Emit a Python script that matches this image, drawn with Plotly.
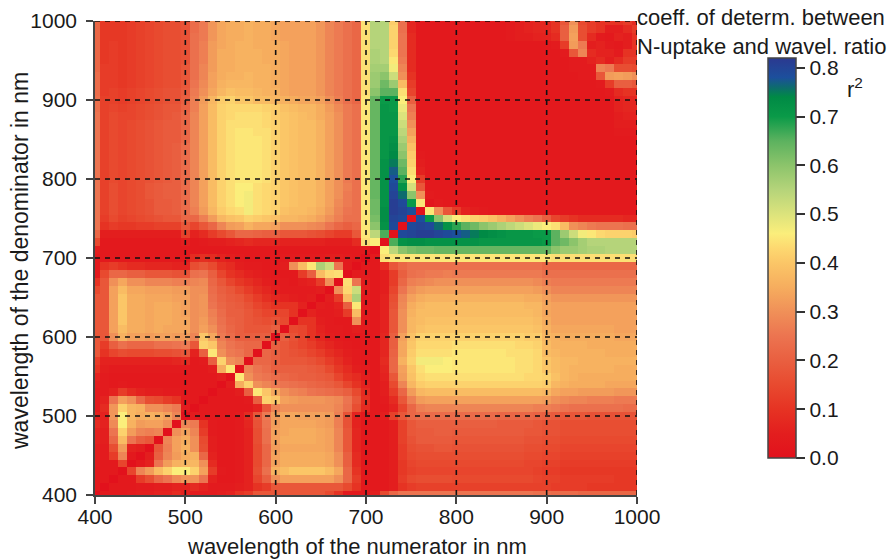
import numpy as np
import plotly.graph_objects as go

# wavelength bands (cell centres)
wavelengths = list(range(400, 1001, 10))
tick_vals = [400, 500, 600, 700, 800, 900, 1000]
grid_vals = [500, 600, 700, 800, 900, 1000]
cbar_ticks = [0.0, 0.1, 0.2, 0.3, 0.4, 0.5, 0.6, 0.7, 0.8]

# r2 x 100. Each row: denominator band, numerator from
# the diagonal upward (the map is symmetric about the diagonal).
r2_rows = [
 [0,3,3,3,4,5,5,6,6, 8,6,4,4,4,5,6,10,12,18, 18,18,18,18,18,18,18,15,10,3, 3,3,5,15,22,25,25,25,25,25, 25,25,25,25,25,25,25,25,25,25, 24,24,23,23,23,22,22,22,22,22,22,22],
 [0,3,3,3,4,4,5,5,6,6, 8,6,4,4,4,5,6,10,12,18, 18,18,18,18,18,18,18,15,10,3, 3,3,5,10,12,13,13,13,13,13, 13,13,13,13,13,13,13,13,13,13, 12,12,12,12,11,11,11,11,11,11],
 [0,3,3,12,16,22,25,29,31, 31,25,6,3,3,4,6,14,20,30, 33,33,33,33,33,33,30,22,12,3, 3,3,5,12,15,16,16,16,16,15, 15,15,15,15,15,15,15,15,14,13, 13,12,12,12,12,12,12,11,11,11],
 [0,14,28,32,38,42,46,46, 42,33,12,4,3,4,6,16,24,36, 38,40,40,40,40,38,34,22,10,3, 3,3,5,11,13,14,14,14,14,14, 14,14,14,14,14,14,14,14,13,12, 12,11,11,11,11,11,11,11,11,11],
 [0,3,6,25,32,36,37, 37,30,8,3,3,4,6,15,22,33, 35,35,35,35,35,34,30,20,8,3, 3,3,5,11,14,15,15,15,15,15, 15,15,15,15,15,15,15,14,14,13, 13,12,12,12,12,12,12,12,12,12],
 [0,5,20,28,32,35, 36,22,6,3,3,4,6,15,22,33, 35,35,35,35,35,34,30,20,8,3, 3,3,5,12,15,16,16,16,16,16, 16,16,16,16,16,16,16,15,15,14, 14,13,13,13,13,13,13,13,13,13],
 [0,18,27,33,36, 30,16,5,3,3,4,6,15,22,32, 34,34,34,34,34,33,28,18,7,3, 3,3,5,12,16,17,17,18,18,17, 17,17,17,17,17,17,17,16,16,15, 15,14,14,14,14,14,14,14,14,14],
 [0,28,33,35, 30,15,5,3,3,4,6,16,24,33, 35,35,35,35,34,33,28,18,7,3, 3,3,5,13,17,19,19,19,19,18, 18,18,18,18,18,18,18,17,17,16, 16,15,15,15,15,15,15,15,15,15],
 [0,30,33, 28,12,4,3,3,4,6,16,24,33, 34,35,35,35,34,33,28,18,7,3, 3,3,5,13,18,19,19,20,20,19, 19,19,19,19,19,19,19,18,18,17, 17,16,16,16,16,16,16,16,16,16],
 [0,28, 26,10,4,3,3,4,7,17,25,32, 34,34,34,34,33,32,27,17,6,3, 3,3,5,13,18,20,20,20,20,20, 20,20,20,20,19,19,19,19,18,17, 17,16,16,16,16,16,16,16,16,16],
 [0, 4,3,3,3,3,4,8,18,26, 32,34,34,33,33,33,32,27,17,6, 3,3,5,13,18,22,23,23,23,23, 23,23,23,23,23,22,22,22,22,21, 20,19,18,18,18,17,17,17,17,17,17],
 [0,3,3,3,3,3,3,6,18,28, 30,30,30,30,30,30,28,24,16,8, 3,3,6,14,22,27,28,28,28,28, 28,28,28,28,28,28,28,28,27,27, 26,25,24,24,24,24,24,24,23,23],
 [0,3,3,3,3,4,20,42,40, 33,32,31,31,31,30,29,25,18,9, 3,4,8,18,27,32,33,33,33,33, 33,33,33,33,33,33,33,33,33,32, 30,29,28,28,27,27,27,26,26,26],
 [0,3,3,5,20,45,40,34, 30,28,27,25,24,23,22,20,15,8, 3,5,12,22,32,37,38,38,38,38, 38,38,38,38,38,38,38,38,38,37, 34,33,33,32,32,32,32,31,31,31],
 [0,5,35,42,30,28,26, 25,24,23,22,21,20,18,14,10,6, 3,5,15,28,37,41,42,42,42,42, 42,42,42,42,42,42,42,42,42,41, 37,36,35,35,35,35,34,34,34,34],
 [0,45,30,26,25,23, 22,21,20,20,19,18,14,10,8,5, 3,6,18,32,39,43,44,44,44,44, 44,44,44,44,44,44,44,43,43,42, 39,37,36,35,35,35,35,35,35,35],
 [0,28,25,23,20, 20,20,20,19,18,15,11,8,5,4, 3,7,22,33,40,44,46,46,46,45, 45,45,45,45,45,45,44,44,43,40, 38,37,36,36,36,36,36,35,35,35],
 [0,22,22,20, 18,18,18,17,15,12,9,6,4,3, 3,8,22,36,42,47,47,47,46,45, 45,45,45,45,45,45,44,44,43,40, 38,37,37,36,36,36,36,36,36,36],
 [0,22,20, 18,17,16,14,12,9,7,5,4,3, 3,7,21,34,41,44,44,44,44,45, 45,45,45,45,45,44,44,44,43,38, 37,36,36,36,36,36,35,35,35,35],
 [0,20, 18,16,14,12,9,7,5,4,3,3, 3,7,20,34,40,43,43,43,43,44, 44,44,44,44,44,44,43,43,42,38, 36,36,36,36,35,35,35,35,35,35],
 [0, 20,17,14,10,7,5,4,3,3,3, 3,7,20,33,39,42,42,42,42,42, 42,42,42,42,42,42,42,41,41,37, 36,35,35,35,35,35,35,34,34,34],
 [0,15,14,10,6,4,4,3,5,4, 3,6,18,30,37,39,40,40,40,40, 40,40,40,40,40,40,40,40,39,36, 34,34,34,34,34,34,34,33,33,33],
 [0,10,10,5,4,3,3,30,4, 3,6,18,30,37,38,39,39,39,39, 39,39,39,39,39,39,39,39,38,35, 33,33,33,33,33,33,33,33,33,33],
 [0,6,4,4,5,12,38,4, 3,6,18,30,36,38,38,38,38,38, 38,38,38,38,38,38,38,38,37,34, 33,33,33,33,33,33,33,33,33,33],
 [0,5,4,6,20,45,4, 3,6,17,29,35,37,38,38,38,38, 38,38,38,38,38,38,38,37,37,34, 33,33,33,33,33,33,33,33,33,33],
 [0,5,12,38,56,4, 3,6,16,28,33,35,36,36,36,36, 36,36,36,36,36,36,36,35,35,33, 31,31,31,31,31,31,31,31,31,31],
 [0,30,43,52,5, 3,5,14,25,30,32,33,33,33,33, 33,33,33,33,33,33,33,33,32,30, 28,28,28,28,28,28,28,28,28,28],
 [0,44,25,5, 3,5,12,22,27,28,29,30,30,30, 30,30,30,30,30,30,30,30,29,27, 26,26,26,26,26,26,26,26,26,26],
 [0,4,4, 3,5,12,20,24,25,26,26,27,26, 26,26,26,26,26,26,26,26,26,24, 24,24,24,24,24,24,24,24,24,24],
 [0,3, 3,8,18,22,24,24,24,24,24,24, 24,24,24,24,24,24,24,24,24,22, 22,22,22,22,22,22,22,22,22,22],
 [0, 3,44,45,45,45,45,45,45,45,45, 45,45,45,45,45,45,45,45,45,45, 44,44,44,44,44,44,44,44,44,44],
 [0,46,54,60,62,63,63,64,64,64, 64,64,64,64,64,64,64,64,64,64, 60,58,58,57,56,56,55,55,55,55],
 [0,66,72,73,73,72,72,72,72, 72,72,71,71,71,71,71,71,71,70, 65,63,60,57,55,55,55,55,55,55],
 [0,79,80,81,81,80,79,78, 77,75,74,73,72,71,71,71,70,70, 65,58,52,47,45,43,42,42,42,41],
 [0,79,80,79,76,72,68, 65,63,60,58,56,54,52,50,48,46, 44,38,30,28,26,25,25,25,24,24],
 [0,78,70,60,51,46, 44,42,41,39,36,33,30,27,25,20, 14,12,10,8,8,8,8,8,7,7],
 [0,45,30,18,12, 6,5,4,3,3,3,3,3,3,3, 3,3,3,3,3,3,3,3,3,3],
 [2,4,3,3, 3,3,3,3,3,3,3,3,3,3, 3,3,3,3,3,3,3,3,3,3],
 [3,3,3, 3,3,3,3,3,3,3,3,3,3, 3,3,3,3,3,3,3,3,3,3],
 [3,3, 3,3,3,3,3,3,3,3,3,3, 3,3,3,3,3,3,3,3,3,3],
 [3, 3,3,3,3,3,3,3,3,3,3, 3,3,3,3,3,3,3,3,3,3],
 [3,3,3,3,3,3,3,3,3,3, 3,3,3,3,3,3,3,3,3,3],
 [3,3,3,3,3,3,3,3,3, 3,3,3,3,3,3,3,3,3,3],
 [3,3,3,3,3,3,3,3, 3,3,3,3,3,3,3,3,3,3],
 [3,3,3,3,3,3,3, 3,3,3,3,3,3,3,3,3,3],
 [3,3,3,3,3,3, 3,3,3,3,3,3,3,3,3,3],
 [3,3,3,3,3, 3,3,3,3,3,3,3,4,4,4],
 [3,3,3,3, 3,3,3,3,3,3,3,5,5,5],
 [3,3,3, 3,3,3,3,3,3,3,5,6,6],
 [3,3, 3,3,3,3,3,3,3,6,7,7],
 [3, 3,3,3,3,3,3,3,6,7,7],
 [3,3,3,3,3,3,4,8,10,10],
 [3,3,3,3,4,12,20,20,18],
 [3,4,4,18,32,33,32,30],
 [4,4,28,26,16,16,15],
 [6,8,5,8,12,12],
 [6,6,4,10,10],
 [4,3,5,10],
 [6,5,10],
 [8,12],
 [8],
]

colorscale_values = [0, .05, .10, .15, .20, .25, .30, .35, .40, .43, .46, .50, .55, .60, .65, .70, .74, .76, .78, .82]
colorscale_colors = ["#e2111c", "#e31e1e", "#e63323", "#e84a2f", "#e95f40", "#ec7450", "#f09058", "#f6ad5e",
                     "#fbc667", "#fdd870", "#fbee7b", "#dce37c", "#b5d47a", "#8cc46b", "#5cb25f", "#0a9a48",
                     "#008a45", "#0d6b6e", "#1c4f9c", "#2b3990"]
z_max = 0.82

n = len(wavelengths)
z = np.zeros((n, n))
for i, row in enumerate(r2_rows):
    assert len(row) == n - i, (i, len(row))
    for k, v in enumerate(row):
        z[i, i + k] = z[i + k, i] = v / 100

FONT = "Liberation Sans, Arial, sans-serif"
INK = "#1a1a1a"

fig = go.Figure(go.Heatmap(
    x=wavelengths, y=wavelengths, z=z, zmin=0, zmax=z_max,
    colorscale=[[v / z_max, c] for v, c in zip(colorscale_values, colorscale_colors)],
    colorbar=dict(
        thickness=28, thicknessmode="pixels", len=400, lenmode="pixels",
        x=1.2417, xanchor="left", xpad=0, y=0.5, yanchor="middle", ypad=0,
        tickmode="array", tickvals=cbar_ticks, ticktext=[f"{t:.1f}" for t in cbar_ticks],
        ticks="outside", ticklen=9, tickwidth=1.5, tickcolor="#333",
        outlinecolor="#444", outlinewidth=1.5,
        tickfont=dict(family=FONT, size=21, color=INK),
    ),
))

axis = dict(range=[400, 1000], tickmode="array", tickvals=tick_vals, ticks="outside",
            ticklen=7, tickwidth=1.5, tickcolor="#444", showgrid=False, zeroline=False,
            showline=True, linecolor="#444", linewidth=1.5,
            tickfont=dict(family=FONT, size=21, color=INK))
fig.update_layout(
    width=896, height=559, paper_bgcolor="white", plot_bgcolor="white",
    margin=dict(l=95, r=259, t=21, b=64, autoexpand=False), font=dict(family=FONT, color=INK),
    xaxis=dict(axis, ticklabelstandoff=-5),
    yaxis=dict(axis, ticklabelstandoff=5),
)
for g in grid_vals:
    line = dict(color="#111", width=1.6, dash="5px,5px")
    fig.add_shape(type="line", xref="x", yref="paper", x0=g, x1=g, y0=0, y1=1, line=line, layer="above")
    fig.add_shape(type="line", xref="paper", yref="y", x0=0, x1=1, y0=g, y1=g, line=line, layer="above")

fig.add_annotation(text="wavelength of the numerator in nm", xref="paper", yref="paper",
                   x=(357 - 95) / 542, y=(495 - 546) / 474, xanchor="center", yanchor="middle",
                   showarrow=False, font=dict(family=FONT, size=22, color=INK))
fig.add_annotation(text="wavelength of the denominator in nm", xref="paper", yref="paper",
                   x=(20 - 95) / 542, y=(495 - 261) / 474, xanchor="center", yanchor="middle", textangle=-90,
                   showarrow=False, font=dict(family=FONT, size=23, color=INK))
fig.add_annotation(text="coeff. of determ. between<br>N-uptake and wavel. ratio",
                   xref="paper", yref="paper", x=(635 - 95) / 542, xanchor="left", y=1.039, yanchor="top",
                   showarrow=False, align="left", font=dict(family=FONT, size=22, color=INK))
fig.add_annotation(text="r<sup>2</sup>", xref="paper", yref="paper", x=(845 - 95) / 542, y=(495 - 88) / 474,
                   xanchor="left", yanchor="middle", showarrow=False, font=dict(family=FONT, size=22, color=INK))

fig.write_html("out.html", config={"displayModeBar": False}, post_script="document.body.style.margin='0';")
